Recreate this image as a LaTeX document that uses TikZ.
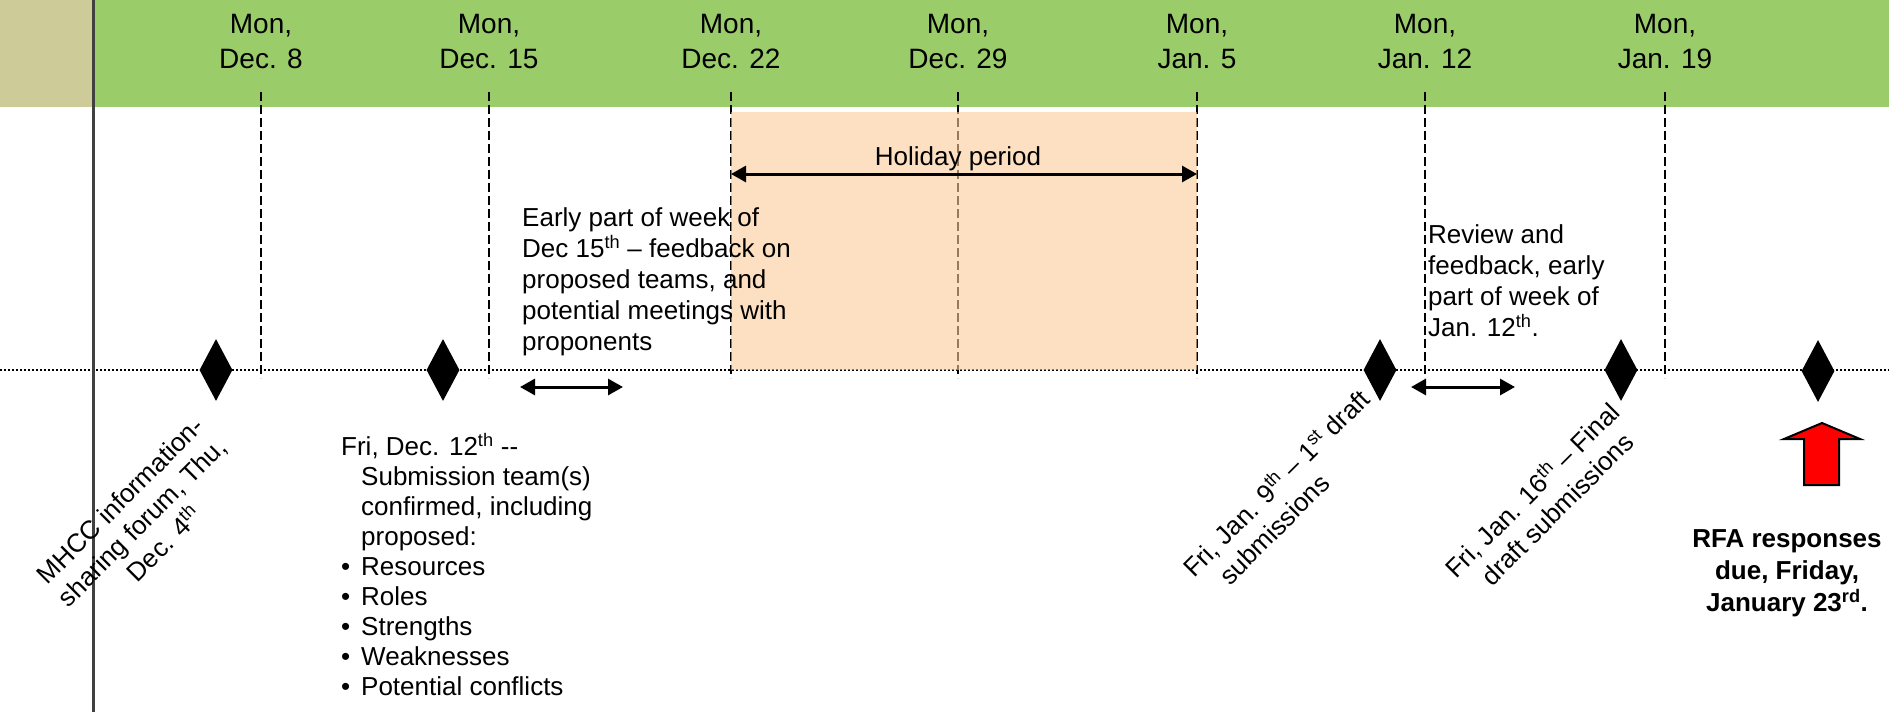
\documentclass[tikz,border=0pt]{standalone}
\usepackage{fontspec}
\setmainfont{Liberation Sans}
\usetikzlibrary{
    arrows.meta,
    shapes.geometric,
    positioning
}
\definecolor{bandgreen}{RGB}{155,204,106}
\definecolor{bandkhaki}{RGB}{205,204,153}
\definecolor{holiday}{RGB}{252,202,152}
\definecolor{axisgray}{RGB}{64,64,64}
\newcommand{\bul}{\makebox[20pt][l]{\textbullet}}
\newcommand{\ind}{\hspace*{20pt}}

\begin{document}
\begin{tikzpicture}[x=1pt, y=1pt,
    week/.style={anchor=north, inner sep=0, align=center, font=\fontsize{28}{35}\selectfont},
    weekline/.style={line width=2.2pt, dash pattern=on 9pt off 4pt},
    milestone/.style={diamond, fill=black, inner sep=0, minimum width=33pt, minimum height=62pt},
    span/.style={line width=3pt, {Triangle[length=15pt,width=16pt]}-{Triangle[length=15pt,width=16pt]}},
    note/.style={inner sep=0, align=left, font=\fontsize{26}{31}\selectfont}]
                        \useasboundingbox (0, 0) rectangle (1889, -712);
                        % header band
                        \fill[bandkhaki] (0, 0) rectangle (94, -107);
                        \fill[bandgreen] (94, 0) rectangle (1889, -107);
                        \draw[line width=2.2pt, dash pattern=on 2pt off 2pt] (0, -370) -- (1889, -370);
                        \foreach \x/\d [count=\i] in {261/Dec. 8, 489/Dec. 15, 731/Dec. 22, 958/Dec. 29, 1197/Jan. 5, 1425/Jan. 12, 1665/Jan. 19} {
                            \node[week] (w\i) at (\x, -14) {Mon,\\\d};
                            \coordinate (t\i) at (\x, -92);
                            \coordinate (b\i) at (\x, -378);
                            \draw[weekline] (t\i) -- (b\i);
                        }
                        \fill[holiday, fill opacity=0.6] (731, -112) rectangle (1197, -370);
                        \draw[axisgray, line width=2.5pt] (93.5, 0) -- (93.5, -712);
                        % milestones
                        \node[milestone] (m1) at (216, -370) {};
                        \node[milestone] (m2) at (443, -370) {};
                        \node[milestone] (m3) at (1380, -370) {};
                        \node[milestone] (m4) at (1621, -370) {};
                        \node[milestone] (m5) at (1818, -371) {};
                        % periods
                        \coordinate (hl) at (731, -174);
                        \coordinate (hr) at (1197, -174);
                        \coordinate (fl) at (520, -387);
                        \coordinate (fr) at (623, -387);
                        \coordinate (rl) at (1411, -387);
                        \coordinate (rr) at (1515, -387);
                        \draw[span] (hl) -- (hr);
                        \draw[span] (fl) -- (fr);
                        \draw[span] (rl) -- (rr);
                        \node[note, anchor=base] (hol) at (958, -165) {Holiday period};
                        \node[note, anchor=north west] (feedback) at (522, -207) {Early part of week of\\Dec 15\textsuperscript{th} – feedback on\\proposed teams, and\\potential meetings with\\proponents};
                        \node[note, anchor=north west] (review) at (1428, -224) {Review and\\feedback, early\\part of week of\\Jan. 12\textsuperscript{th}.};
                        \node[note, anchor=north west, font=\fontsize{26}{30}\selectfont] (teams) at (341, -433) {Fri, Dec. 12\textsuperscript{th} -{}-\\\ind Submission team(s)\\\ind confirmed, including\\\ind proposed:\\\bul Resources\\\bul Roles\\\bul Strengths\\\bul Weaknesses\\\bul Potential conflicts};
                        \node[note, rotate=45, align=center] (forum) at (142, -522) {MHCC information-\\sharing forum, Thu,\\Dec. 4\textsuperscript{th}};
                        \node[note, rotate=45] (draft1) at (1286, -493) {Fri, Jan. 9\textsuperscript{th} – 1\textsuperscript{st} draft\\\ind submissions};
                        \node[note, rotate=45] (draft2) at (1542, -500) {Fri, Jan. 16\textsuperscript{th} – Final\\\ind draft submissions};
                        % deadline
                        \draw[line width=2pt, fill=red] (1822, -423) -- (1860, -439) -- (1839, -439) -- (1839, -485) -- (1804, -485) -- (1804, -439) -- (1784, -439) -- cycle;
                        \node[note, anchor=north, align=center, font=\fontsize{26}{32}\selectfont\bfseries] (rfa) at (1787, -529) {RFA responses\\due, Friday,\\January 23\textsuperscript{rd}.};
                    \end{tikzpicture}
\end{document}
